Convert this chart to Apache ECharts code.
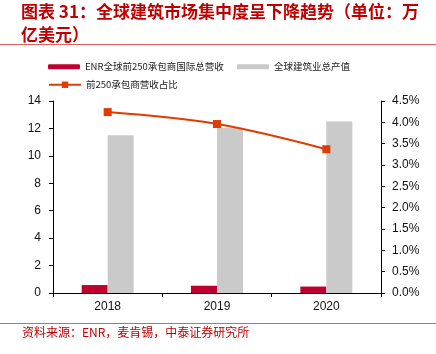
<!DOCTYPE html>
<html>
<head>
<meta charset="utf-8">
<script src="https://cdn.jsdelivr.net/npm/echarts@6/dist/echarts.min.js"></script>
<style>
html, body { margin: 0; padding: 0; background: #fff; }
#main { width: 436px; height: 354px; }
</style>
</head>
<body>
<div id="main"></div>
<script>
// 数据
var years = ['2018', '2019', '2020'];
var enrRevenue = [0.58, 0.53, 0.47];      // ENR全球前250承包商国际总营收（万亿美元）
var totalOutput = [11.5, 12.05, 12.5];    // 全球建筑业总产值（万亿美元）
var top250Share = [4.24, 3.96, 3.37];     // 前250承包商营收占比（%）
var leftTicks = [0, 14, 2];
var rightTicks = [0, 4.5, 0.5];

var name1 = 'ENR全球前250承包商国际总营收';
var name2 = '全球建筑业总产值';
var name3 = '前250承包商营收占比';
var red = '#C00000';
var cjk = '"Noto Sans CJK SC", sans-serif';
var latin = '"Liberation Sans", Arial, sans-serif';

var chart = echarts.init(document.getElementById('main'));
var option = {
    animation: false,
    title: {
        text: '图表 31：全球建筑市场集中度呈下降趋势（单位：万\n亿美元）',
        left: 21, top: 0, padding: 0,
        textStyle: { color: red, fontSize: 17, fontWeight: 'bold', fontFamily: cjk, lineHeight: 23 }
    },
    graphic: [
        { type: 'line', shape: { x1: 0, y1: 44.5, x2: 436, y2: 44.5 }, style: { stroke: '#E06060', lineWidth: 1 } },
        { type: 'line', shape: { x1: 0, y1: 323.5, x2: 436, y2: 323.5 }, style: { stroke: '#E06060', lineWidth: 1 } },
        { type: 'text', left: 22, top: 326, style: { text: '资料来源：ENR，麦肯锡，中泰证券研究所', fill: red, font: '12px ' + cjk } }
    ],
    legend: [
        { data: [name1], left: 48, top: 62, padding: 0, itemWidth: 32, itemHeight: 5,
          textStyle: { fontSize: 9.5, fontFamily: cjk, color: '#222' } },
        { data: [name2], left: 237, top: 62, padding: 0, itemWidth: 32, itemHeight: 5,
          textStyle: { fontSize: 9.5, fontFamily: cjk, color: '#222' } },
        { data: [name3], left: 48, top: 80, padding: 0, itemWidth: 32, itemHeight: 8,
          textStyle: { fontSize: 9.5, fontFamily: cjk, color: '#222' } }
    ],
    grid: { left: 53, right: 55, top: 101, bottom: 61 },
    xAxis: {
        type: 'category',
        data: years,
        axisLine: { lineStyle: { color: '#000' } },
        axisTick: { show: true, length: 4, lineStyle: { color: '#000' } },
        axisLabel: { color: '#111', fontSize: 12, fontFamily: latin, margin: 8 }
    },
    yAxis: [
        {
            type: 'value', min: leftTicks[0], max: leftTicks[1], interval: leftTicks[2],
            axisLine: { show: true, lineStyle: { color: '#000' } },
            axisTick: { show: true, length: 4, lineStyle: { color: '#000' } },
            splitLine: { show: false },
            axisLabel: { color: '#111', fontSize: 12, fontFamily: latin, margin: 12 }
        },
        {
            type: 'value', min: rightTicks[0], max: rightTicks[1], interval: rightTicks[2],
            axisLine: { show: true, lineStyle: { color: '#000' } },
            axisTick: { show: true, length: 4, lineStyle: { color: '#000' } },
            splitLine: { show: false },
            axisLabel: { color: '#111', fontSize: 12, fontFamily: latin, margin: 11,
                formatter: function (v) { return v.toFixed(1) + '%'; } }
        }
    ],
    series: [
        { name: name1, type: 'bar', data: enrRevenue, barWidth: 26, barGap: '0%',
          itemStyle: { color: '#C0002F' } },
        { name: name2, type: 'bar', data: totalOutput, barWidth: 26, barGap: '0%',
          itemStyle: { color: '#CACACA' } },
        { name: name3, type: 'line', yAxisIndex: 1, data: top250Share, smooth: 0.35,
          symbol: 'rect', symbolSize: 8,
          lineStyle: { color: '#E03C00', width: 2 }, itemStyle: { color: '#E03C00' } }
    ]
};
chart.setOption(option);
</script>
</body>
</html>
